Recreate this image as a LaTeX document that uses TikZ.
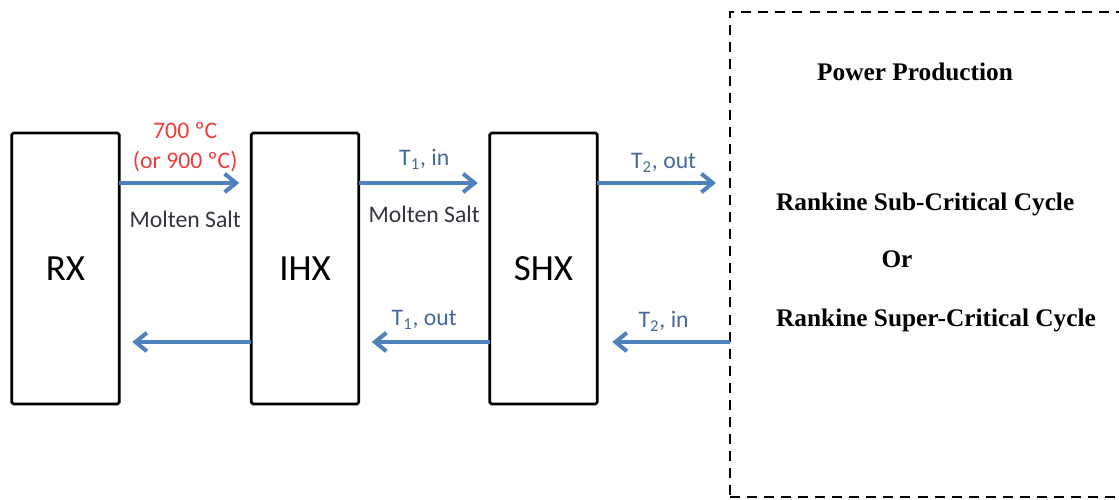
\documentclass[tikz,border=0pt]{standalone}
\usepackage{fontspec}
\setmainfont{Carlito}
\newfontfamily\cycfont{Liberation Serif}
\usetikzlibrary{arrows.meta, positioning}
\definecolor{flowblue}{HTML}{4F81BD}
\definecolor{tempred}{HTML}{F03C3C}
\definecolor{tagblue}{HTML}{44689C}
\definecolor{taggray}{HTML}{34343E}

\begin{document}
\begin{tikzpicture}[
  unit/.style={draw, line width=1.6pt, rounded corners=1pt, minimum width=2.15cm,
               minimum height=5.42cm, outer sep=0pt, font=\fontsize{21}{25}\selectfont},
  flow/.style={flowblue, line width=2.3pt,
               -{Straight Barb[length=6.5pt, width=10.5pt, line width=2.3pt]}},
  tag/.style={font=\fontsize{13.5}{17}\selectfont, text=tagblue},
  cyc/.style={font=\cycfont\bfseries\fontsize{14.4}{17}\selectfont}]
  \useasboundingbox (0,0) rectangle (22.38,10);
  \clip (0,0) rectangle (22.38,10);

  % heat exchanger chain
  \node[unit] (rx)  at (1.31,4.63)  {RX};
  \node[unit] (ihx) at (6.10,4.63)  {IHX};
  \node[unit] (shx) at (10.87,4.63) {SHX};
  \node[draw, line width=1.4pt, dash pattern=on 5.7pt off 4pt, outer sep=0pt,
        anchor=north west, minimum width=9cm, minimum height=9.7cm] (pp) at (14.6,9.76) {};

  \coordinate (hi) at ([yshift=1.71cm]shx.east);
  \coordinate (lo) at ([yshift=-1.47cm]shx.east);

  % hot leg
  \draw[flow, shorten >=0.24cm] ([yshift=1.71cm]rx.east) -- ([yshift=1.71cm]ihx.west)
    node[midway, above=2pt, tag, text=tempred, align=center] {700 ºC\\(or 900 ºC)}
    node[midway, below=0.4cm, tag, text=taggray] {Molten Salt};
  \draw[flow, shorten >=0.24cm] ([yshift=1.71cm]ihx.east) -- ([yshift=1.71cm]shx.west)
    node[midway, above=0.12cm, tag] {T\textsubscript{1}, in}
    node[midway, below=0.3cm, tag, text=taggray] {Molten Salt};
  \draw[flow, shorten >=0.28cm] (hi) -- (pp.west |- hi)
    node[midway, above=0.05cm, tag] {T\textsubscript{2}, out};

  % cold leg
  \draw[flow, shorten >=0.26cm] ([yshift=-1.47cm]ihx.west) -- ([yshift=-1.47cm]rx.east);
  \draw[flow, shorten >=0.26cm] ([yshift=-1.47cm]shx.west) -- ([yshift=-1.47cm]ihx.east)
    node[midway, above=0.1cm, tag] {T\textsubscript{1}, out};
  \draw[flow, shorten >=0.3cm] (pp.west |- lo) -- (lo)
    node[midway, above=0.05cm, tag] {T\textsubscript{2}, in};

  % power block
  \node[cyc] (title) at (18.3,8.56) {Power Production};
  \node[cyc, anchor=west] (sub) at (15.4,5.92) {Rankine Sub-Critical Cycle};
  \node[cyc] (or) at (17.94,4.82) {Or};
  \node[cyc, anchor=west] (sup) at (15.4,3.6) {Rankine Super-Critical Cycle};
\end{tikzpicture}
\end{document}
